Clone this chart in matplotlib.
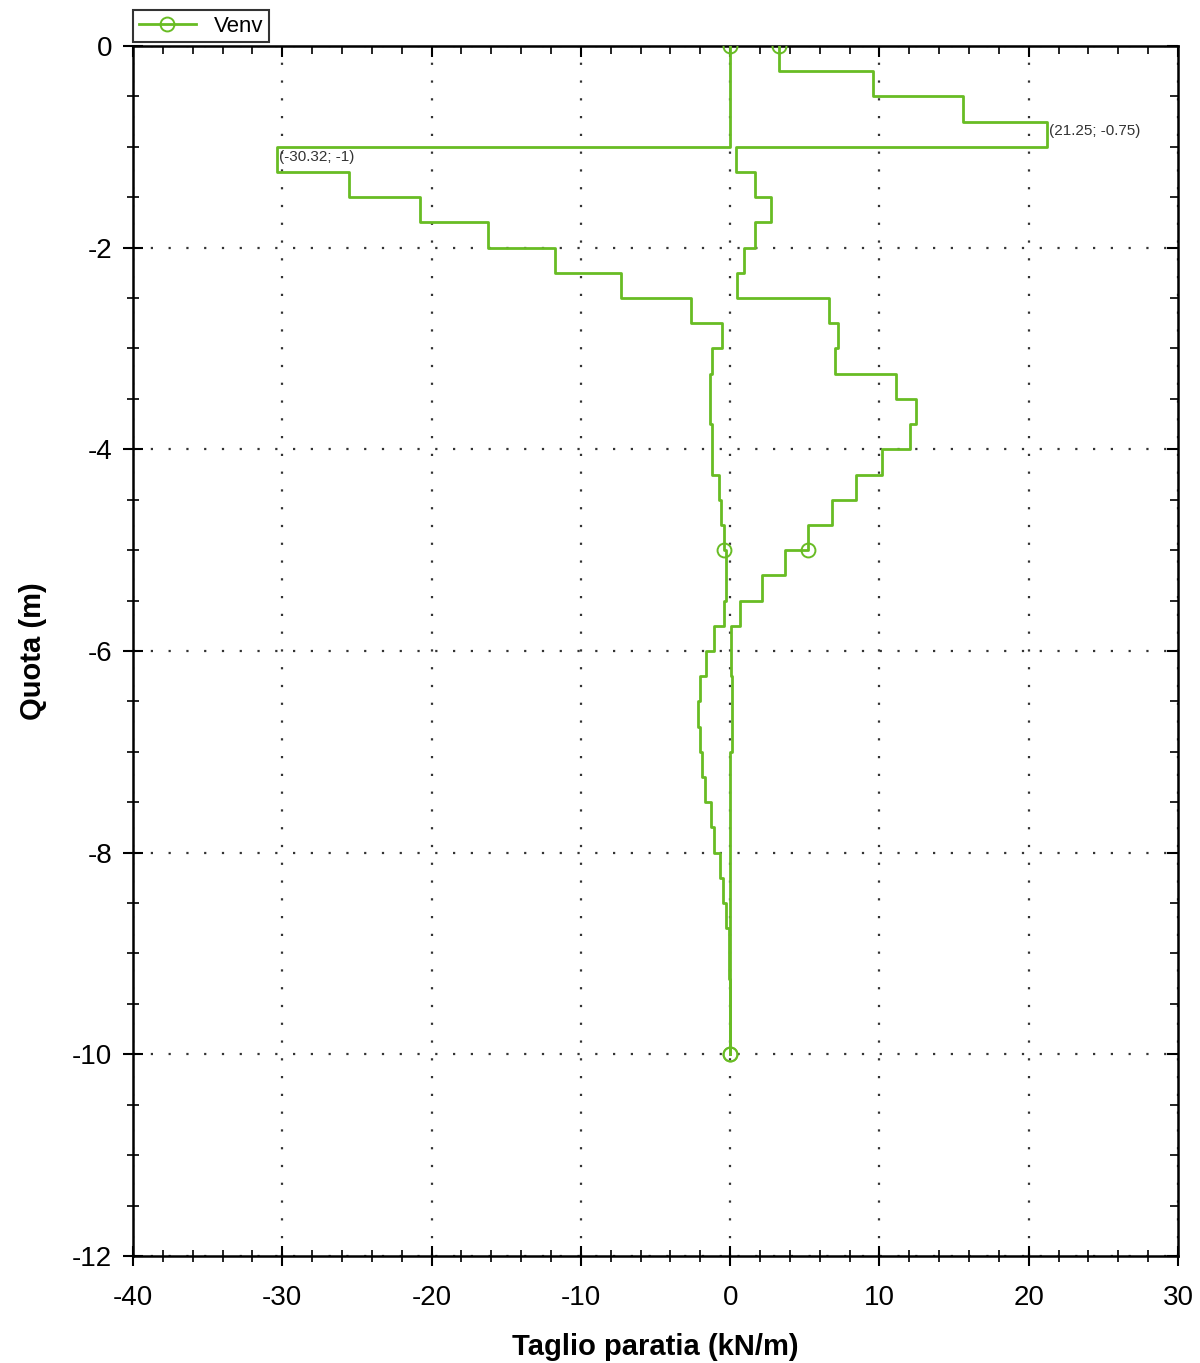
import matplotlib.pyplot as plt
import numpy as np

##### Data #####
# Envelope of wall shear, one value per 0.25 m layer from 0 down to -10 m
step = 0.25
v_max = [3.26, 9.59, 15.6, 21.25, 0.36, 1.65, 2.72, 1.65, 0.95, 0.44,
         6.6, 7.2, 7.0, 11.1, 12.46, 12.06, 10.16, 8.44, 6.81, 5.2,
         3.68, 2.12, 0.67, 0.07, 0.07, 0.1, 0.1, 0.1, 0.0, 0.0,
         0.0, 0.0, 0.0, 0.0, 0.0, 0.0, 0.0, 0.0, 0.0, 0.0]
v_min = [0.0, 0.0, 0.0, 0.0, -30.32, -25.5, -20.8, -16.2, -11.7, -7.3,
         -2.6, -0.56, -1.23, -1.34, -1.34, -1.23, -1.23, -0.78, -0.6, -0.4,
         -0.27, -0.27, -0.4, -1.05, -1.63, -2.0, -2.17, -2.0, -1.9, -1.67,
         -1.27, -1.05, -0.67, -0.45, -0.27, -0.11, -0.05, 0.0, 0.0, 0.0]
labels = [(21.25, -0.75, "(21.25; -0.75)"), (-30.32, -1.0, "(-30.32; -1)")]


def step_path(values):
    # two points per layer: top and bottom of the layer
    xs, ys = [], []
    for i, v in enumerate(values):
        xs += [v, v]
        ys += [-step * i, -step * (i + 1)]
    return np.array(xs), np.array(ys)


##### Plot #####
plt.rcParams['font.family'] = ['Liberation Sans', 'DejaVu Sans']
plt.rcParams['axes.unicode_minus'] = False
green = '#68BC24'

fig = plt.figure(figsize=(12, 13.63), dpi=100)
ax = fig.add_axes([0.1108, 0.0785, 0.8709, 0.8878])

marks = [0, 39, 79]
for vals, lab in [(v_max, 'Venv'), (v_min, None)]:
    xs, ys = step_path(vals)
    ax.plot(xs, ys, color=green, lw=2.0, marker='o', markevery=marks,
            markersize=10, markerfacecolor='none', markeredgewidth=1.4,
            label=lab, zorder=3)

for x, y, t in labels:
    ax.annotate(t, (x, y), xytext=(1, -2), textcoords='offset points',
                ha='left', va='top', fontsize=11, color='#333333')

ax.set_xlim(-40, 30)
ax.set_ylim(-12, 0)
ax.set_xticks(np.arange(-40, 31, 10))
ax.set_xticks(np.arange(-40, 31, 2), minor=True)
ax.set_yticks(np.arange(-12, 1, 2))
ax.set_yticks(np.arange(-12, 0.1, 0.5), minor=True)
ax.tick_params(which='major', direction='inout', length=14, width=1.5,
               labelsize=20, pad=8)
ax.tick_params(which='minor', direction='inout', length=9, width=1.2)
ax.tick_params(axis='x', pad=14)

# inward ticks on top and right edges
top = ax.secondary_xaxis('top')
top.set_xticks(np.arange(-40, 31, 10))
top.set_xticks(np.arange(-40, 31, 2), minor=True)
top.tick_params(which='major', direction='in', length=8, width=1.5, labeltop=False)
top.tick_params(which='minor', direction='in', length=6, width=1.2)
right = ax.secondary_yaxis('right')
right.set_yticks(np.arange(-12, 1, 2))
right.set_yticks(np.arange(-12, 0.1, 0.5), minor=True)
right.tick_params(which='major', direction='in', length=8, width=1.5, labelright=False)
right.tick_params(which='minor', direction='in', length=6, width=1.2)

for s in ax.spines.values():
    s.set_linewidth(1.8)

ax.grid(True, which='major', color='#333333', linestyle=(0, (1, 7)), linewidth=1.6)

ax.set_xlabel('Taglio paratia (kN/m)', fontsize=21, fontweight='bold', labelpad=16)
ax.set_ylabel('Quota (m)', fontsize=21, fontweight='bold', labelpad=18)

leg = ax.legend(loc='lower left', bbox_to_anchor=(0.0, 1.003), fontsize=16,
                frameon=True, fancybox=False, edgecolor='black',
                handlelength=2.6, borderpad=0.25, borderaxespad=0)
leg.get_frame().set_linewidth(1.5)

fig.savefig('out.png', dpi=100)
